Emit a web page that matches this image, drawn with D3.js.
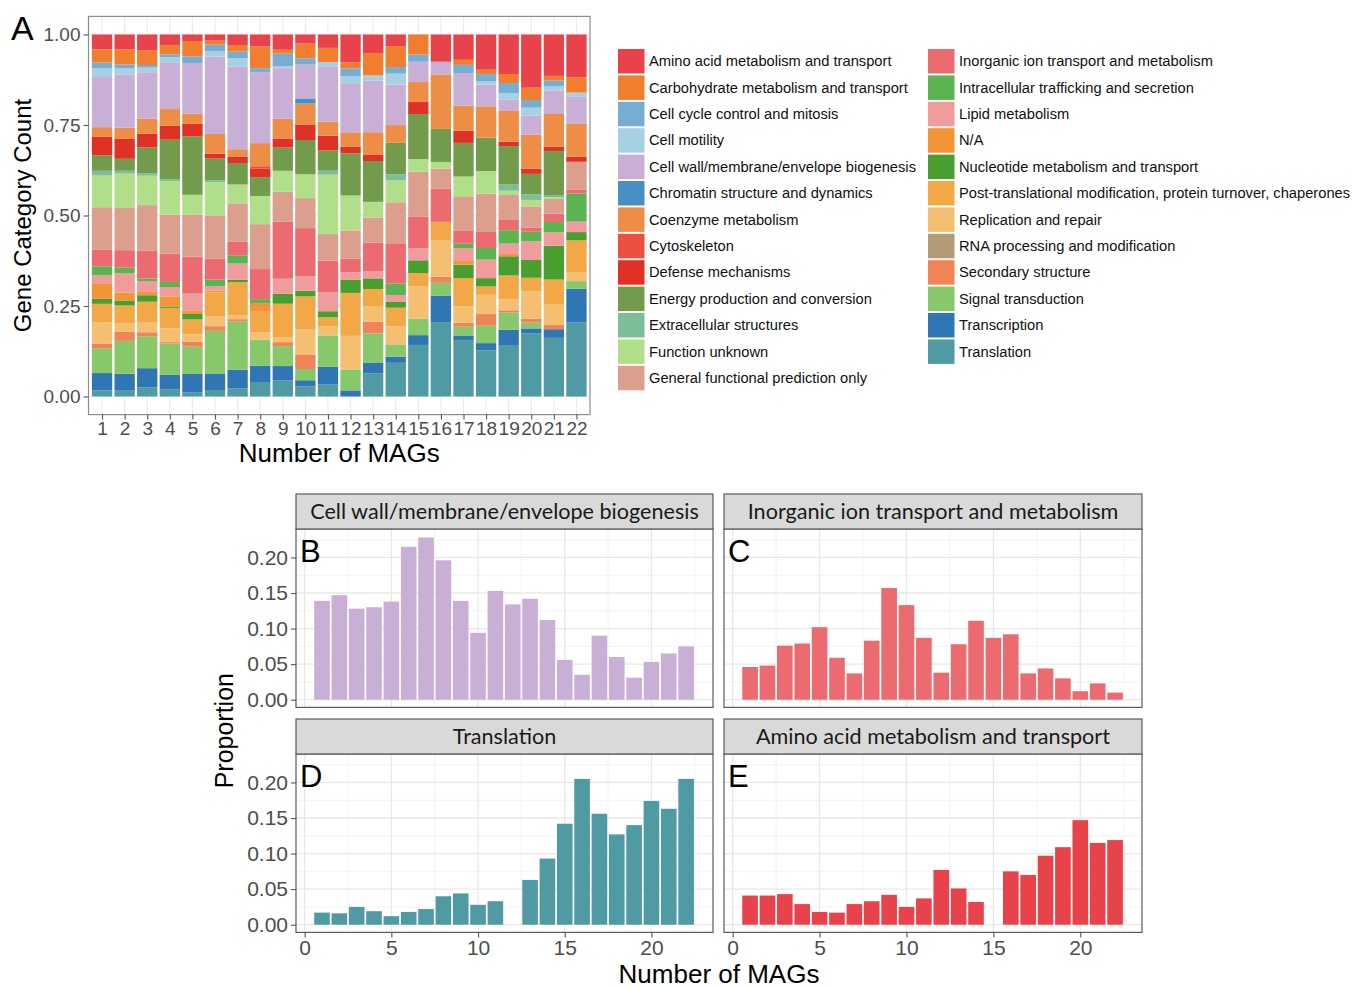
<!DOCTYPE html>
<html>
<head>
<meta charset="utf-8">
<script src="https://cdn.jsdelivr.net/npm/d3@7"></script>
<style>
  body { margin: 0; background: #ffffff; }
  svg { display: block; }
</style>
</head>
<body>
<svg id="chart" width="1352" height="988"></svg>
<script>
// ---- Data -------------------------------------------------------------
const mags = [1, 2, 3, 4, 5, 6, 7, 8, 9, 10, 11, 12, 13, 14, 15, 16, 17, 18, 19, 20, 21, 22];

const categories = [
  "Amino acid metabolism and transport",
  "Carbohydrate metabolism and transport",
  "Cell cycle control and mitosis",
  "Cell motility",
  "Cell wall/membrane/envelope biogenesis",
  "Chromatin structure and dynamics",
  "Coenzyme metabolism",
  "Cytoskeleton",
  "Defense mechanisms",
  "Energy production and conversion",
  "Extracellular structures",
  "Function unknown",
  "General functional prediction only",
  "Inorganic ion transport and metabolism",
  "Intracellular trafficking and secretion",
  "Lipid metabolism",
  "N/A",
  "Nucleotide metabolism and transport",
  "Post-translational modification, protein turnover, chaperones",
  "Replication and repair",
  "RNA processing and modification",
  "Secondary structure",
  "Signal transduction",
  "Transcription",
  "Translation"
];

const categoryColors = [
  "#e8434a", "#f07e2e", "#76aed3", "#a7d0e3", "#c9afd5", "#4890c4", "#ee8d45",
  "#ec5040", "#df3126", "#729b4c", "#7dbd98", "#b1df89", "#dc9f8d", "#eb6b70",
  "#5bb450", "#f09b9c", "#f39436", "#4a9e30", "#f3a848", "#f5bf72", "#b39b78",
  "#ef8557", "#87c86a", "#3176b4", "#4f9aa3"
];

// Proportion of genes in each category, per number of MAGs
const aminoAcid      = [0.041, 0.041, 0.043, 0.029, 0.018, 0.017, 0.029, 0.033, 0.042, 0.025, 0.037, 0.077, 0.051, 0.032, 0.000, 0.075, 0.070, 0.097, 0.109, 0.147, 0.115, 0.119];
const carbohydrate   = [0.037, 0.042, 0.041, 0.026, 0.042, 0.011, 0.018, 0.060, 0.011, 0.041, 0.039, 0.017, 0.061, 0.058, 0.055, 0.000, 0.014, 0.012, 0.025, 0.034, 0.013, 0.042];
const cellCycle      = [0.015, 0.011, 0.007, 0.008, 0.020, 0.018, 0.018, 0.011, 0.035, 0.017, 0.000, 0.021, 0.000, 0.018, 0.020, 0.000, 0.023, 0.020, 0.028, 0.021, 0.015, 0.000];
const cellMotility   = [0.025, 0.017, 0.013, 0.014, 0.000, 0.015, 0.023, 0.000, 0.005, 0.000, 0.012, 0.022, 0.014, 0.030, 0.000, 0.000, 0.000, 0.009, 0.018, 0.022, 0.013, 0.012];
const cellWall       = [0.139, 0.147, 0.128, 0.130, 0.138, 0.215, 0.228, 0.196, 0.139, 0.094, 0.153, 0.134, 0.142, 0.112, 0.056, 0.035, 0.090, 0.060, 0.031, 0.053, 0.065, 0.075];
const chromatin      = [0.000, 0.000, 0.000, 0.000, 0.000, 0.000, 0.000, 0.000, 0.000, 0.014, 0.000, 0.000, 0.000, 0.000, 0.000, 0.000, 0.000, 0.000, 0.000, 0.000, 0.000, 0.000];
const coenzyme       = [0.027, 0.031, 0.041, 0.046, 0.028, 0.055, 0.021, 0.064, 0.055, 0.058, 0.039, 0.040, 0.061, 0.049, 0.055, 0.150, 0.069, 0.086, 0.085, 0.094, 0.091, 0.091];
const cytoskeleton   = [0.000, 0.000, 0.000, 0.000, 0.000, 0.000, 0.000, 0.006, 0.000, 0.000, 0.000, 0.000, 0.000, 0.000, 0.000, 0.000, 0.000, 0.000, 0.000, 0.000, 0.000, 0.000];
const defense        = [0.051, 0.055, 0.038, 0.039, 0.034, 0.013, 0.017, 0.024, 0.025, 0.043, 0.041, 0.018, 0.018, 0.000, 0.033, 0.000, 0.034, 0.000, 0.012, 0.014, 0.012, 0.014];
const energy         = [0.043, 0.033, 0.071, 0.110, 0.161, 0.060, 0.059, 0.052, 0.064, 0.095, 0.054, 0.117, 0.112, 0.087, 0.124, 0.091, 0.093, 0.092, 0.106, 0.056, 0.122, 0.000];
const extracellular  = [0.013, 0.008, 0.007, 0.005, 0.000, 0.006, 0.000, 0.000, 0.000, 0.000, 0.013, 0.000, 0.000, 0.017, 0.000, 0.000, 0.000, 0.000, 0.017, 0.016, 0.006, 0.000];
const functionUnknown= [0.088, 0.095, 0.081, 0.093, 0.055, 0.092, 0.052, 0.078, 0.058, 0.066, 0.164, 0.097, 0.043, 0.060, 0.035, 0.018, 0.055, 0.062, 0.012, 0.018, 0.005, 0.000];
const general        = [0.118, 0.117, 0.126, 0.108, 0.115, 0.119, 0.106, 0.124, 0.083, 0.083, 0.074, 0.078, 0.069, 0.113, 0.123, 0.055, 0.094, 0.106, 0.067, 0.058, 0.041, 0.078];
const inorganicIon   = [0.046, 0.048, 0.076, 0.079, 0.102, 0.059, 0.037, 0.083, 0.157, 0.133, 0.087, 0.038, 0.078, 0.111, 0.087, 0.092, 0.037, 0.044, 0.030, 0.012, 0.023, 0.010];
const intracellular  = [0.025, 0.016, 0.008, 0.014, 0.000, 0.018, 0.023, 0.011, 0.000, 0.000, 0.000, 0.000, 0.000, 0.032, 0.000, 0.000, 0.012, 0.032, 0.037, 0.026, 0.029, 0.078];
const lipid          = [0.024, 0.053, 0.029, 0.026, 0.046, 0.012, 0.044, 0.000, 0.041, 0.040, 0.053, 0.020, 0.020, 0.018, 0.034, 0.000, 0.036, 0.051, 0.029, 0.052, 0.037, 0.029];
const notAssigned    = [0.041, 0.022, 0.009, 0.028, 0.010, 0.005, 0.000, 0.024, 0.000, 0.000, 0.000, 0.000, 0.000, 0.000, 0.000, 0.000, 0.010, 0.000, 0.006, 0.000, 0.000, 0.000];
const nucleotide     = [0.014, 0.014, 0.018, 0.004, 0.015, 0.000, 0.007, 0.000, 0.028, 0.016, 0.017, 0.037, 0.029, 0.017, 0.035, 0.000, 0.037, 0.023, 0.053, 0.049, 0.094, 0.023];
const postTransl     = [0.052, 0.049, 0.056, 0.057, 0.041, 0.066, 0.091, 0.057, 0.092, 0.092, 0.024, 0.119, 0.047, 0.052, 0.037, 0.052, 0.078, 0.023, 0.066, 0.037, 0.070, 0.088];
const replication    = [0.059, 0.024, 0.028, 0.038, 0.021, 0.028, 0.011, 0.020, 0.014, 0.070, 0.026, 0.093, 0.043, 0.049, 0.089, 0.099, 0.046, 0.053, 0.030, 0.076, 0.055, 0.025];
const rnaProcessing  = [0.000, 0.000, 0.000, 0.000, 0.000, 0.000, 0.000, 0.000, 0.000, 0.000, 0.000, 0.000, 0.000, 0.000, 0.000, 0.000, 0.000, 0.000, 0.000, 0.000, 0.000, 0.000];
const secondary      = [0.013, 0.025, 0.011, 0.004, 0.013, 0.013, 0.006, 0.000, 0.011, 0.039, 0.000, 0.000, 0.032, 0.000, 0.000, 0.017, 0.011, 0.032, 0.006, 0.011, 0.013, 0.000];
const signal         = [0.068, 0.091, 0.088, 0.087, 0.075, 0.118, 0.133, 0.072, 0.055, 0.031, 0.087, 0.058, 0.081, 0.034, 0.045, 0.035, 0.024, 0.048, 0.048, 0.016, 0.000, 0.021];
const transcription  = [0.048, 0.047, 0.053, 0.041, 0.050, 0.046, 0.052, 0.045, 0.040, 0.017, 0.049, 0.017, 0.029, 0.017, 0.027, 0.073, 0.013, 0.020, 0.044, 0.014, 0.024, 0.094];
const translation    = [0.017, 0.016, 0.025, 0.019, 0.012, 0.018, 0.022, 0.040, 0.044, 0.028, 0.033, 0.000, 0.063, 0.093, 0.142, 0.205, 0.156, 0.127, 0.140, 0.174, 0.163, 0.205];

const series = [
  aminoAcid, carbohydrate, cellCycle, cellMotility, cellWall, chromatin, coenzyme,
  cytoskeleton, defense, energy, extracellular, functionUnknown, general, inorganicIon,
  intracellular, lipid, notAssigned, nucleotide, postTransl, replication, rnaProcessing,
  secondary, signal, transcription, translation
];

const shareTicks = [0, 0.25, 0.5, 0.75, 1];
const shareTickLabels = ["0.00", "0.25", "0.50", "0.75", "1.00"];
const proportionTicks = [0, 0.05, 0.10, 0.15, 0.20];
const proportionTickLabels = ["0.00", "0.05", "0.10", "0.15", "0.20"];
const magTicks = [0, 5, 10, 15, 20];

// Panels B–E: category shown and tag letter
const facetCategories = [
  "Cell wall/membrane/envelope biogenesis",
  "Inorganic ion transport and metabolism",
  "Translation",
  "Amino acid metabolism and transport"
];
const facetTags = ["B", "C", "D", "E"];

// ---- Helpers ----------------------------------------------------------
const svg = d3.select("#chart");
const FONT = "'Liberation Sans', Arial, Helvetica, sans-serif";
const STRIP_FONT = "Lato, 'Open Sans', sans-serif";
const colorOf = d3.scaleOrdinal().domain(categories).range(categoryColors);
const valuesOf = c => series[categories.indexOf(c)];

// ---- Panel A: stacked proportions ------------------------------------
const A = { left: 88.5, right: 590, top: 16.4, bottom: 414.6 };
const xA = d3.scaleLinear().domain([0.4, 22.6]).range([A.left, A.right]);
const yA = d3.scaleLinear().domain([-0.05, 1.05]).range([A.bottom, A.top]);

const gA = svg.append("g");
gA.append("rect").attr("x", A.left).attr("y", A.top)
  .attr("width", A.right - A.left).attr("height", A.bottom - A.top).attr("fill", "#fff");

// grid
const minorA = [0.125, 0.375, 0.625, 0.875];
gA.selectAll(".gminor").data(minorA).join("line")
  .attr("x1", A.left).attr("x2", A.right)
  .attr("y1", d => yA(d)).attr("y2", d => yA(d))
  .attr("stroke", "#f2f2f2").attr("stroke-width", 0.8);
gA.selectAll(".gmajor").data(shareTicks).join("line")
  .attr("x1", A.left).attr("x2", A.right)
  .attr("y1", d => yA(d)).attr("y2", d => yA(d))
  .attr("stroke", "#ebebeb").attr("stroke-width", 1.2);
gA.selectAll(".gx").data(mags).join("line")
  .attr("x1", d => xA(d)).attr("x2", d => xA(d))
  .attr("y1", A.top).attr("y2", A.bottom)
  .attr("stroke", "#ebebeb").attr("stroke-width", 1.2);

const table = mags.map((m, i) => {
  const row = { mag: m };
  categories.forEach((c, j) => { row[c] = series[j][i]; });
  return row;
});
const stacked = d3.stack()
  .keys(categories.slice().reverse())
  .order(d3.stackOrderNone)
  .offset(d3.stackOffsetExpand)(table);

gA.selectAll(".layer").data(stacked).join("g")
  .attr("fill", d => colorOf(d.key))
  .selectAll("rect").data(d => d).join("rect")
  .attr("x", d => xA(d.data.mag - 0.45))
  .attr("width", d => xA(d.data.mag + 0.45) - xA(d.data.mag - 0.45))
  .attr("y", d => yA(d[1]))
  .attr("height", d => Math.max(0, yA(d[0]) - yA(d[1])));

gA.append("rect").attr("x", A.left).attr("y", A.top)
  .attr("width", A.right - A.left).attr("height", A.bottom - A.top)
  .attr("fill", "none").attr("stroke", "#8c8c8c").attr("stroke-width", 1.2);

// axes of A
const axYA = d3.axisLeft(yA).tickValues(shareTicks)
  .tickFormat((d, i) => shareTickLabels[i]).tickSize(5).tickPadding(3);
const gyA = gA.append("g").attr("transform", `translate(${A.left},0)`).call(axYA);
const axXA = d3.axisBottom(xA).tickValues(mags).tickFormat(d3.format("d")).tickSize(5).tickPadding(2);
const gxA = gA.append("g").attr("transform", `translate(0,${A.bottom})`).call(axXA);
[gyA, gxA].forEach(g => {
  g.select(".domain").remove();
  g.selectAll(".tick line").attr("stroke", "#555").attr("stroke-width", 1.1);
  g.selectAll(".tick text").attr("fill", "#4d4d4d").style("font-family", FONT).style("font-size", "19px");
});

gA.append("text").attr("x", 11).attr("y", 40).text("A")
  .style("font-family", FONT).style("font-size", "34px").attr("fill", "#000");
gA.append("text")
  .attr("transform", `translate(31,${(A.top + A.bottom) / 2}) rotate(-90)`)
  .attr("text-anchor", "middle").text("Gene Category Count")
  .style("font-family", FONT).style("font-size", "24px").attr("fill", "#000");
gA.append("text").attr("x", (A.left + A.right) / 2).attr("y", 462)
  .attr("text-anchor", "middle").text("Number of MAGs")
  .style("font-family", FONT).style("font-size", "26px").attr("fill", "#000");

// legend: two columns of swatches and labels
const legend = svg.append("g");
const legendRows = 13, rowStep = 26.4, swatchW = 26.5, labelGap = 4.5;
legend.selectAll("g").data(categories).join("g")
  .attr("transform", (d, i) => {
    const col = i < legendRows ? 0 : 1;
    const row = i < legendRows ? i : i - legendRows;
    return `translate(${col ? 928 : 618},${49 + row * rowStep})`;
  })
  .each(function (d) {
    const g = d3.select(this);
    g.append("rect").attr("width", swatchW).attr("height", 24.5).attr("fill", colorOf(d));
    g.append("text").attr("x", swatchW + labelGap).attr("y", 17.2).text(d)
      .style("font-family", FONT).style("font-size", "14.7px").attr("fill", "#111");
  });

// ---- Panels B–E: single-category proportions -------------------------
const facetBox = [
  { left: 296, right: 713, stripTop: 494 },
  { left: 724, right: 1142, stripTop: 494 },
  { left: 296, right: 713, stripTop: 719 },
  { left: 724, right: 1142, stripTop: 719 }
];
const stripH = 35, panelH = 178.4;

facetCategories.forEach((cat, k) => {
  const b = facetBox[k];
  const top = b.stripTop + stripH, bottom = top + panelH;
  const fx = d3.scaleLinear().domain([-0.5, 23.55]).range([b.left, b.right]);
  const fy = d3.scaleLinear().domain([-0.0108, 0.2400]).range([bottom, top]);
  const g = svg.append("g");

  g.append("rect").attr("x", b.left).attr("y", top).attr("width", b.right - b.left)
    .attr("height", panelH).attr("fill", "#fff");

  const yMinor = [0.025, 0.075, 0.125, 0.175, 0.225];
  const xMinor = [2.5, 7.5, 12.5, 17.5, 22.5];
  g.selectAll(".hmin").data(yMinor).join("line")
    .attr("x1", b.left).attr("x2", b.right).attr("y1", d => fy(d)).attr("y2", d => fy(d))
    .attr("stroke", "#f2f2f2").attr("stroke-width", 0.9);
  g.selectAll(".vmin").data(xMinor).join("line")
    .attr("y1", top).attr("y2", bottom).attr("x1", d => fx(d)).attr("x2", d => fx(d))
    .attr("stroke", "#f2f2f2").attr("stroke-width", 0.9);
  g.selectAll(".hmaj").data(proportionTicks).join("line")
    .attr("x1", b.left).attr("x2", b.right).attr("y1", d => fy(d)).attr("y2", d => fy(d))
    .attr("stroke", "#e8e8e8").attr("stroke-width", 1.3);
  g.selectAll(".vmaj").data(magTicks).join("line")
    .attr("y1", top).attr("y2", bottom).attr("x1", d => fx(d)).attr("x2", d => fx(d))
    .attr("stroke", "#e8e8e8").attr("stroke-width", 1.3);

  const vals = valuesOf(cat);
  g.selectAll(".bar").data(mags.map((m, i) => ({ mag: m, v: vals[i] })).filter(d => d.v > 0))
    .join("rect")
    .attr("x", d => fx(d.mag - 0.45))
    .attr("width", d => fx(d.mag + 0.45) - fx(d.mag - 0.45))
    .attr("y", d => fy(d.v))
    .attr("height", d => fy(0) - fy(d.v))
    .attr("fill", colorOf(cat));

  g.append("rect").attr("x", b.left).attr("y", top).attr("width", b.right - b.left)
    .attr("height", panelH).attr("fill", "none").attr("stroke", "#5a5a5a").attr("stroke-width", 1.2);

  // strip
  g.append("rect").attr("x", b.left).attr("y", b.stripTop).attr("width", b.right - b.left)
    .attr("height", stripH).attr("fill", "#d9d9d9").attr("stroke", "#5a5a5a").attr("stroke-width", 1.2);
  g.append("text").attr("x", (b.left + b.right) / 2).attr("y", b.stripTop + stripH / 2 + 7.5)
    .attr("text-anchor", "middle").text(cat)
    .style("font-family", STRIP_FONT).style("font-size", "21.6px").attr("fill", "#1a1a1a");

  g.append("text").attr("x", b.left + 4).attr("y", top + 33).text(facetTags[k])
    .style("font-family", FONT).style("font-size", "31px").attr("fill", "#000");

  if (k % 2 === 0) {
    const ay = g.append("g").attr("transform", `translate(${b.left},0)`)
      .call(d3.axisLeft(fy).tickValues(proportionTicks)
        .tickFormat((d, i) => proportionTickLabels[i]).tickSize(5).tickPadding(3));
    ay.select(".domain").remove();
    ay.selectAll(".tick line").attr("stroke", "#555").attr("stroke-width", 1.1);
    ay.selectAll(".tick text").attr("fill", "#4d4d4d").style("font-family", FONT).style("font-size", "21px");
  }
  if (k >= 2) {
    const ax = g.append("g").attr("transform", `translate(0,${bottom})`)
      .call(d3.axisBottom(fx).tickValues(magTicks).tickFormat(d3.format("d")).tickSize(5).tickPadding(3));
    ax.select(".domain").remove();
    ax.selectAll(".tick line").attr("stroke", "#555").attr("stroke-width", 1.1);
    ax.selectAll(".tick text").attr("fill", "#4d4d4d").style("font-family", FONT).style("font-size", "21px");
  }
});

svg.append("text")
  .attr("transform", `translate(233,${(494 + stripH + 719 + stripH + panelH) / 2}) rotate(-90)`)
  .attr("text-anchor", "middle").text("Proportion")
  .style("font-family", FONT).style("font-size", "25px").attr("fill", "#000");
svg.append("text").attr("x", 719).attr("y", 983).attr("text-anchor", "middle")
  .text("Number of MAGs")
  .style("font-family", FONT).style("font-size", "26px").attr("fill", "#000");
</script>
</body>
</html>
